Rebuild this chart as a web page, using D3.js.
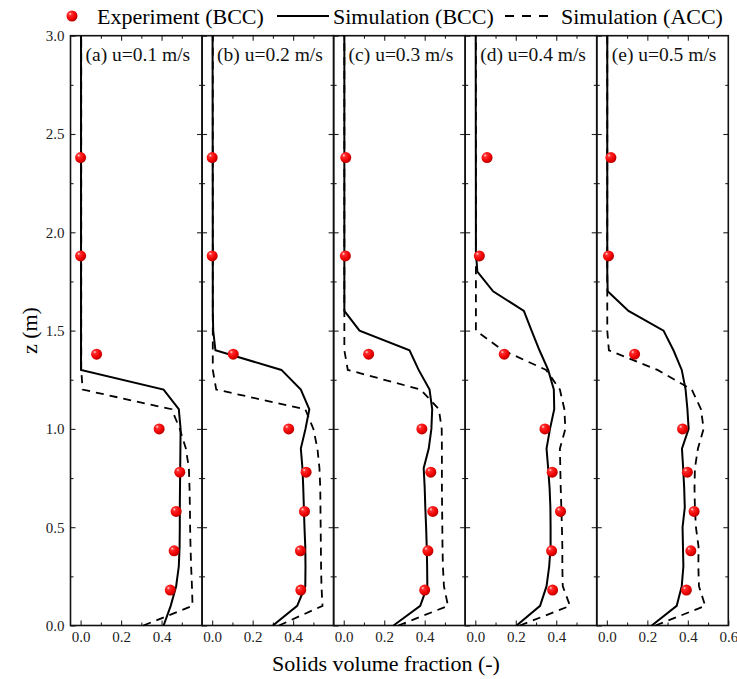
<!DOCTYPE html>
<html>
<head>
<meta charset="utf-8">
<script src="https://cdn.jsdelivr.net/npm/d3@7"></script>
<style>
  html, body { margin: 0; padding: 0; background: #fff; }
  svg { display: block; font-family: "Liberation Serif", "Times New Roman", serif; }
</style>
</head>
<body>
<svg id="chart" width="737" height="679"></svg>
<script>
// Panel captions (superficial gas velocity)
const panelLabels = ["(a) u=0.1 m/s", "(b) u=0.2 m/s", "(c) u=0.3 m/s", "(d) u=0.4 m/s", "(e) u=0.5 m/s"];

// Heights (m) of the simulated profiles
const simZ = [0, 0.1, 0.2, 0.3, 0.4, 0.5, 0.6, 0.7, 0.8, 0.9, 1.0, 1.1, 1.2, 1.3, 1.4, 1.5, 1.6, 1.7, 1.8, 1.9, 3.0];

// Simulated solids volume fraction, BCC model, one array per panel
const bccA = [0.41, 0.445, 0.472, 0.485, 0.489, 0.49, 0.49, 0.491, 0.492, 0.493, 0.494, 0.485, 0.41, 0.002, 0.002, 0.002, 0.002, 0.002, 0.002, 0.002, 0.002];
const bccB = [0.30, 0.42, 0.46, 0.461, 0.46, 0.456, 0.453, 0.45, 0.446, 0.438, 0.461, 0.48, 0.438, 0.342, 0.016, 0.005, 0.003, 0.003, 0.003, 0.003, 0.002];
const bccC = [0.246, 0.378, 0.413, 0.412, 0.41, 0.407, 0.403, 0.40, 0.395, 0.42, 0.433, 0.437, 0.424, 0.37, 0.325, 0.078, 0.003, 0.003, 0.003, 0.003, 0.003];
const bccD = [0.204, 0.32, 0.352, 0.365, 0.372, 0.372, 0.371, 0.367, 0.36, 0.352, 0.369, 0.39, 0.388, 0.36, 0.317, 0.278, 0.24, 0.088, 0.01, 0.003, 0.002];
const bccE = [0.222, 0.345, 0.37, 0.378, 0.376, 0.374, 0.385, 0.382, 0.377, 0.371, 0.404, 0.398, 0.389, 0.37, 0.329, 0.28, 0.107, 0.004, 0.002, 0.002, 0.002];

// Simulated solids volume fraction, ACC model
const accA = [0.31, 0.553, 0.55, 0.546, 0.543, 0.541, 0.54, 0.538, 0.535, 0.52, 0.49, 0.45, 0.01, 0.003, 0.003, 0.003, 0.003, 0.003, 0.003, 0.003, 0.003];
const accB = [0.33, 0.545, 0.54, 0.538, 0.537, 0.536, 0.535, 0.534, 0.53, 0.52, 0.50, 0.46, 0.02, 0.003, 0.003, 0.003, 0.003, 0.003, 0.003, 0.003, 0.003];
const accC = [0.27, 0.515, 0.495, 0.49, 0.488, 0.487, 0.486, 0.485, 0.485, 0.485, 0.484, 0.47, 0.38, 0.02, 0.003, 0.003, 0.003, 0.003, 0.003, 0.003, 0.003];
const accD = [0.22, 0.468, 0.432, 0.43, 0.43, 0.428, 0.425, 0.422, 0.42, 0.418, 0.445, 0.44, 0.418, 0.35, 0.136, 0.003, 0.003, 0.003, 0.003, 0.003, 0.003];
const accE = [0.24, 0.486, 0.455, 0.452, 0.453, 0.44, 0.435, 0.433, 0.435, 0.45, 0.478, 0.465, 0.42, 0.25, 0.01, 0.002, 0.002, 0.002, 0.002, 0.002, 0.002];

// Measured points (BCC)
const expZ = [2.38, 1.88, 1.38, 1.0, 0.78, 0.58, 0.38, 0.18];
const expA = [0.0, 0.0, 0.079, 0.388, 0.49, 0.472, 0.462, 0.443];
const expB = [0.0, 0.0, 0.104, 0.378, 0.464, 0.456, 0.436, 0.438];
const expC = [0.01, 0.008, 0.123, 0.386, 0.43, 0.44, 0.416, 0.40];
const expD = [0.058, 0.02, 0.143, 0.344, 0.38, 0.421, 0.377, 0.382];
const expE = [0.02, 0.008, 0.137, 0.374, 0.398, 0.431, 0.415, 0.393];

// Axis ticks
const xMajorTicks = [0, 0.2, 0.4, 0.6];
const xMinorTicks = [0.1, 0.3, 0.5];
const yMajorTicks = [0, 0.5, 1.0, 1.5, 2.0, 2.5, 3.0];
const yMinorTicks = [0.25, 0.75, 1.25, 1.75, 2.25, 2.75];

const legendLabels = ["Experiment (BCC)", "Simulation (BCC)", "Simulation (ACC)"];
const xTitle = "Solids volume fraction (-)";
const yTitle = "z (m)";

const panels = [
  { label: panelLabels[0], bcc: bccA, acc: accA, exp: expA },
  { label: panelLabels[1], bcc: bccB, acc: accB, exp: expB },
  { label: panelLabels[2], bcc: bccC, acc: accC, exp: expC },
  { label: panelLabels[3], bcc: bccD, acc: accD, exp: expD },
  { label: panelLabels[4], bcc: bccE, acc: accE, exp: expE }
];

const svg = d3.select("#chart");
const plotL = 70.5, plotR = 728.3, plotT = 35.7, plotB = 625.5;
const pw = (plotR - plotL) / panels.length;

const y = d3.scaleLinear().domain([0, 3.0]).range([plotB, plotT]);

// Shaded sphere used for measured points
const defs = svg.append("defs");
const grad = defs.append("radialGradient").attr("id", "ball")
  .attr("cx", "38%").attr("cy", "35%").attr("r", "65%").attr("fx", "32%").attr("fy", "30%");
grad.append("stop").attr("offset", "0%").attr("stop-color", "#ffe6e6");
grad.append("stop").attr("offset", "22%").attr("stop-color", "#ff3030");
grad.append("stop").attr("offset", "70%").attr("stop-color", "#f00000");
grad.append("stop").attr("offset", "100%").attr("stop-color", "#b80000");

const line = (xs) => d3.line().x(d => xs(d[0])).y(d => y(d[1]));

panels.forEach((p, i) => {
  const x0 = plotL + i * pw;
  const x = d3.scaleLinear().domain([-0.05, 0.6]).range([x0, x0 + pw]);
  const g = svg.append("g");
  const isLast = i === panels.length - 1;

  // bottom axis: major + minor ticks, pointing inward
  g.append("g").attr("transform", `translate(0,${plotB})`)
    .call(d3.axisBottom(x).tickValues(isLast ? xMajorTicks : xMajorTicks.slice(0, 3))
      .tickSizeInner(-5).tickSizeOuter(0).tickPadding(6).tickFormat(d3.format(".1f")));
  g.append("g").attr("transform", `translate(0,${plotB})`)
    .call(d3.axisBottom(x).tickValues(xMinorTicks).tickSizeInner(-3).tickSizeOuter(0).tickFormat(""));
  // top mirror ticks
  g.append("g").attr("transform", `translate(0,${plotT})`)
    .call(d3.axisTop(x).tickValues(xMajorTicks.slice(0, 3)).tickSizeInner(-5).tickSizeOuter(0).tickFormat(""));
  g.append("g").attr("transform", `translate(0,${plotT})`)
    .call(d3.axisTop(x).tickValues(xMinorTicks).tickSizeInner(-3).tickSizeOuter(0).tickFormat(""));
  // left and right ticks
  g.append("g").attr("transform", `translate(${x0},0)`)
    .call(d3.axisLeft(y).tickValues(yMajorTicks).tickSizeInner(-5).tickSizeOuter(0).tickPadding(6)
      .tickFormat(i === 0 ? d3.format(".1f") : ""));
  g.append("g").attr("transform", `translate(${x0},0)`)
    .call(d3.axisLeft(y).tickValues(yMinorTicks).tickSizeInner(-3).tickSizeOuter(0).tickFormat(""));
  g.append("g").attr("transform", `translate(${x0 + pw},0)`)
    .call(d3.axisRight(y).tickValues(yMajorTicks.slice(1, 6)).tickSizeInner(-5).tickSizeOuter(0).tickFormat(""));
  g.append("g").attr("transform", `translate(${x0 + pw},0)`)
    .call(d3.axisRight(y).tickValues(yMinorTicks).tickSizeInner(-3).tickSizeOuter(0).tickFormat(""));

  g.selectAll(".domain").remove();
  g.selectAll(".tick line").attr("stroke", "#222").attr("stroke-width", 1.1);
  g.selectAll(".tick text").attr("fill", "#222").style("font-size", "15px")
    .style("font-family", "'Liberation Serif', serif");

  // panel frame
  g.append("rect").attr("x", x0).attr("y", plotT).attr("width", pw).attr("height", plotB - plotT)
    .attr("fill", "none").attr("stroke", "#111").attr("stroke-width", 1.6);

  const bccPts = simZ.map((z, k) => [p.bcc[k], z]);
  const accPts = simZ.map((z, k) => [p.acc[k], z]);

  g.append("path").datum(accPts).attr("d", line(x))
    .attr("fill", "none").attr("stroke", "#000").attr("stroke-width", 1.8)
    .attr("stroke-dasharray", "8,6");
  g.append("path").datum(bccPts).attr("d", line(x))
    .attr("fill", "none").attr("stroke", "#000").attr("stroke-width", 2);

  g.selectAll("circle.exp").data(expZ.map((z, k) => [p.exp[k], z])).join("circle")
    .attr("class", "exp")
    .attr("cx", d => x(d[0])).attr("cy", d => y(d[1])).attr("r", 5.5)
    .attr("fill", "url(#ball)");

  g.append("text").attr("x", x0 + 15).attr("y", 61)
    .style("font-size", "19.5px").attr("fill", "#111").text(p.label);
});

// Legend
const lg = svg.append("g");
lg.append("circle").attr("cx", 72).attr("cy", 16).attr("r", 5.5).attr("fill", "url(#ball)");
lg.append("text").attr("x", 97).attr("y", 24).style("font-size", "22px").text(legendLabels[0]);
lg.append("line").attr("x1", 277).attr("x2", 329).attr("y1", 16).attr("y2", 16)
  .attr("stroke", "#000").attr("stroke-width", 2);
lg.append("text").attr("x", 333).attr("y", 24).style("font-size", "22px").text(legendLabels[1]);
lg.append("line").attr("x1", 505).attr("x2", 548).attr("y1", 16).attr("y2", 16)
  .attr("stroke", "#000").attr("stroke-width", 2).attr("stroke-dasharray", "9,8");
lg.append("text").attr("x", 561).attr("y", 24).style("font-size", "22px").text(legendLabels[2]);

// Axis titles
svg.append("text").attr("x", 386).attr("y", 671).attr("text-anchor", "middle")
  .style("font-size", "22px").text(xTitle);
svg.append("text").attr("transform", `translate(37,${(plotT + plotB) / 2}) rotate(-90)`)
  .attr("text-anchor", "middle").style("font-size", "22px").text(yTitle);
</script>
</body>
</html>
